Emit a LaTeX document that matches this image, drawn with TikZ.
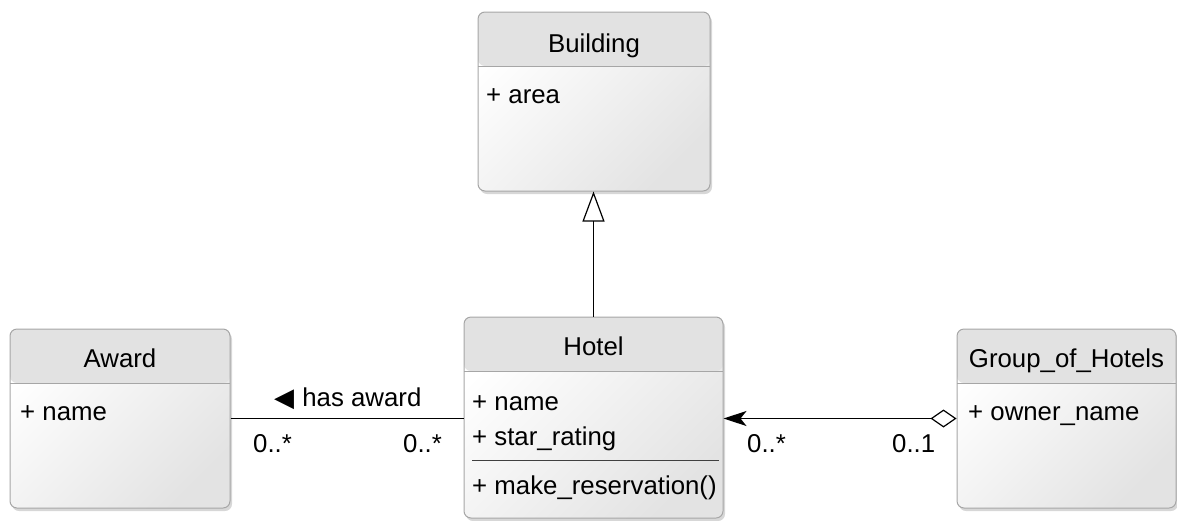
\documentclass[tikz,border=0pt]{standalone}
\usepackage{fontspec}
\setmainfont{Liberation Sans}
\newfontfamily\symbolfont{DejaVu Sans}
\usetikzlibrary{arrows.meta,shadows,calc}

\definecolor{headgray}{HTML}{E2E2E2}
\definecolor{bodygray}{HTML}{E3E3E3}
\definecolor{framegray}{HTML}{A6A6A6}

\tikzset{
  classbox/.style={draw=framegray, line width=1pt, rounded corners=7pt, inner sep=0pt,
    top color=white, bottom color=bodygray, shading angle=45,
    drop shadow={shadow xshift=2pt, shadow yshift=-3pt, fill=black!45, opacity=0.35},
    path picture={
      \fill[headgray] (path picture bounding box.north west) rectangle
        ($(path picture bounding box.north east)!54pt!(path picture bounding box.south east)$);
      \draw[framegray, line width=1pt]
        ($(path picture bounding box.north west)!54pt!(path picture bounding box.south west)$) --
        ($(path picture bounding box.north east)!54pt!(path picture bounding box.south east)$);
    }},
  umltext/.style={font=\fontsize{25.8}{30}\selectfont, inner sep=0pt},
  title/.style={umltext, anchor=base},
  attr/.style={umltext, anchor=base west},
  conn/.style={line width=1.2pt},
}

\begin{document}
\begin{tikzpicture}[x=1pt,y=1pt,yscale=-1,xscale=1]
  \useasboundingbox (0,0) rectangle (1177,520);

  % class frames
  \node[classbox, minimum width=232pt, minimum height=179pt] (building) at (594,101.5) {};
  \node[classbox, minimum width=259pt, minimum height=201pt] (hotel) at (593.5,417.5) {};
  \node[classbox, minimum width=220pt, minimum height=179pt] (award) at (120,418.5) {};
  \node[classbox, minimum width=219pt, minimum height=179pt] (group) at (1066.5,418.5) {};

  % Building
  \node[title] (buildingname) at (594,52) {Building};
  \node[attr] (buildingarea) at (486,103) {+ area};

  % Hotel
  \node[title] (hotelname) at (593.5,355) {Hotel};
  \node[attr] (hotelattra) at (472,410) {+ name};
  \node[attr] (hotelattrb) at (472,445) {+ star\_rating};
  \draw[black!75, line width=0.8pt] (472,460) coordinate (sepl) -- (719,460) coordinate (sepr);
  \node[attr] (hotelop) at (472,494) {+ make\_reservation()};

  % Award
  \node[title] (awardname) at (120,367) {Award};
  \node[attr] (awardattr) at (20,420) {+ name};

  % Group_of_Hotels
  \node[title] (groupname) at (1066.5,367) {Group\_of\_Hotels};
  \node[attr] (groupattr) at (968,420) {+ owner\_name};

  % relations
  \draw[conn, -{Triangle[open,length=30pt,width=22pt]}] (hotel.north) -- (hotel.north |- building.south);
  \draw[conn] (award.east) -- (award.east -| hotel.west);
  \draw[conn, {Diamond[open,length=26pt,width=18pt]}-{Stealth[length=23pt,width=15pt,inset=6pt]}]
    (group.west) -- (group.west -| hotel.east);

  \node[attr] (hasaward) at (274,406) {{\symbolfont\fontsize{26}{30}\selectfont ◀}\hspace{1pt} has award};
  \node[attr] (multa) at (253,452) {0..*};
  \node[attr] (multb) at (403,452) {0..*};
  \node[attr] (multc) at (747,452) {0..*};
  \node[attr] (multd) at (892,452) {0..1};
\end{tikzpicture}
\end{document}
